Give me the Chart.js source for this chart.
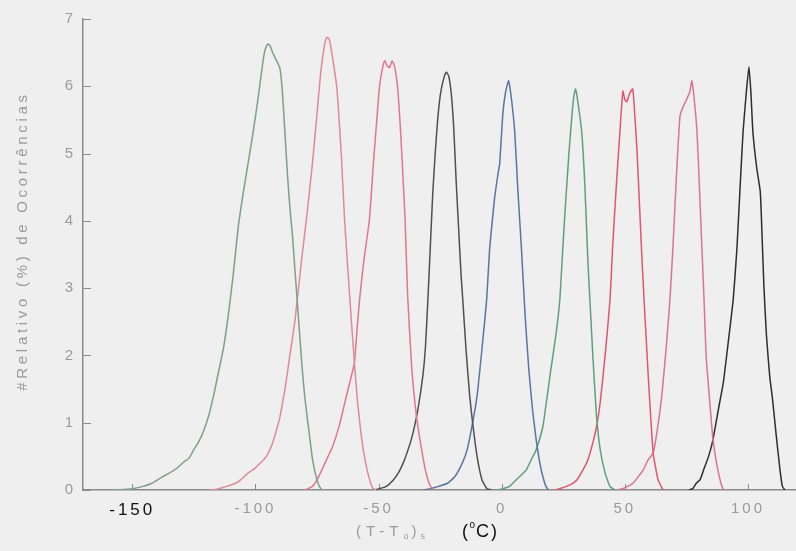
<!DOCTYPE html>
<html>
<head>
<meta charset="utf-8">
<script src="https://cdn.jsdelivr.net/npm/chart.js@4/dist/chart.umd.min.js"></script>
<style>
  html, body { margin: 0; padding: 0; background: #efefef; overflow: hidden; }
  canvas { display: block; }
</style>
</head>
<body>
<canvas id="chart" width="796" height="551"></canvas>
<script>
// Tick values
const xTicks = [-150, -100, -50, 0, 50, 100];
const yTicks = [0, 1, 2, 3, 4, 5, 6, 7];

// Relative frequency distributions: [ (T-To)s in °C , % of occurrences ]
const curve1 = [[-158,0],[-150,0.02],[-146,0.05],[-142,0.1],[-138,0.19],[-135,0.25],[-132,0.32],[-129,0.42],[-127,0.47],[-125,0.6],[-123,0.72],[-121,0.88],[-119,1.1],[-117,1.4],[-115,1.75],[-113,2.1],[-111,2.6],[-109,3.2],[-107,3.9],[-105,4.4],[-103,4.85],[-101,5.3],[-99,5.8],[-97,6.35],[-96,6.55],[-95,6.63],[-94,6.6],[-93,6.5],[-91,6.35],[-90,6.26],[-89,5.9],[-88,5.3],[-87,4.7],[-86,4.2],[-85,3.8],[-84,3.3],[-83,2.8],[-82,2.3],[-81,1.8],[-80,1.4],[-79,1.09],[-78,0.8],[-77,0.5],[-76,0.3],[-75,0.15],[-74,0.05],[-73,0]];
const curve2 = [[-118,0],[-115,0.02],[-112,0.05],[-108,0.1],[-106,0.15],[-103,0.25],[-100,0.33],[-98,0.4],[-95.5,0.5],[-93,0.7],[-91,0.95],[-90,1.09],[-88,1.5],[-86,2.0],[-84,2.5],[-83,2.83],[-81,3.5],[-79.3,4.02],[-77,4.8],[-75.2,5.5],[-73.5,6.2],[-72,6.6],[-71,6.73],[-70,6.7],[-69,6.5],[-67,6.0],[-66,5.5],[-65,4.9],[-63.8,4.02],[-62.5,3.3],[-61,2.5],[-59.8,1.89],[-58.5,1.3],[-57,0.8],[-55.5,0.45],[-54,0.2],[-52.4,0.03],[-51,0]];
const curve3 = [[-80,0],[-77,0.05],[-75,0.15],[-73,0.3],[-70.5,0.5],[-68.7,0.64],[-66,0.95],[-64,1.25],[-62,1.55],[-59.8,1.89],[-58.7,2.4],[-57.7,2.83],[-56,3.4],[-53.7,4.02],[-52,4.9],[-50.5,5.6],[-49.6,6.0],[-48.5,6.25],[-47.5,6.38],[-46.5,6.3],[-45.5,6.28],[-44.5,6.38],[-43.5,6.3],[-42.3,6.0],[-41,5.3],[-40,4.6],[-39.2,4.0],[-38.2,2.9],[-36.5,1.8],[-34.6,1.09],[-32.5,0.6],[-31,0.3],[-29.5,0.1],[-28,0]];
const curve4 = [[-52,0],[-49.6,0.02],[-47,0.05],[-44,0.15],[-42,0.25],[-40,0.4],[-38,0.6],[-36,0.85],[-34,1.2],[-32,1.7],[-31,2.1],[-30,2.8],[-29,3.6],[-28,4.4],[-27,5.0],[-26,5.5],[-25,5.85],[-24,6.05],[-23,6.18],[-22.4,6.21],[-21.5,6.15],[-20.5,5.9],[-19.5,5.4],[-18.5,4.6],[-17.5,3.9],[-16.5,3.2],[-15.8,2.83],[-14.5,2.1],[-13,1.4],[-11.8,1.0],[-10,0.5],[-8,0.15],[-6,0.02],[-4,0]];
const curve5 = [[-32,0],[-29,0.02],[-26,0.05],[-22,0.1],[-19,0.2],[-16,0.4],[-14,0.6],[-11.8,1.0],[-10,1.4],[-8,2.1],[-6.1,2.83],[-4.9,3.58],[-3,4.3],[-1.5,4.7],[-0.8,4.85],[0.4,5.56],[1.5,5.9],[2.8,6.08],[4,5.8],[5.3,5.32],[6.5,4.5],[8,3.6],[9.5,2.6],[11,1.8],[12.5,1.2],[14,0.75],[15.5,0.4],[16.7,0.2],[18,0.05],[19,0]];
const curve6 = [[-2,0],[0.5,0.02],[3,0.05],[5,0.12],[7.3,0.2],[10,0.3],[12,0.45],[14,0.6],[16.7,0.94],[18.5,1.4],[20,1.8],[22,2.3],[23.6,2.83],[24.8,3.58],[26,4.3],[27.3,5.0],[28.5,5.56],[29.3,5.85],[30,5.96],[30.8,5.8],[32.5,5.32],[33.8,4.5],[35,3.4],[36,2.7],[37,2.0],[38.5,1.1],[40,0.6],[42,0.25],[44,0.05],[46,0]];
const curve7 = [[22,0],[23.6,0.02],[26,0.05],[28,0.08],[30.5,0.15],[33,0.3],[35,0.45],[37,0.7],[38.5,0.94],[40,1.3],[42,2.0],[44,2.83],[45,3.58],[46.5,4.5],[48,5.32],[49.2,5.93],[50,5.8],[50.8,5.77],[52,5.9],[53.2,5.96],[54,5.6],[54.9,5.07],[56,4.2],[57,3.4],[58,2.7],[59.5,1.7],[61.5,0.55],[63.5,0.15],[65.5,0]];
const curve8 = [[47,0],[49,0.02],[51,0.05],[53.3,0.1],[55.5,0.2],[57.5,0.3],[59.5,0.45],[61.5,0.55],[63,0.85],[65,1.4],[67,2.2],[68.3,2.83],[69.5,3.58],[71,4.7],[72.4,5.56],[73.6,5.69],[75,5.8],[76.4,5.92],[77.2,6.08],[78.2,5.8],[79.3,5.32],[80.3,4.5],[81.3,3.58],[82.2,2.8],[83,2.0],[84.5,1.3],[85.8,0.75],[87.5,0.35],[89,0.1],[90,0]];
const curve9 = [[76,0],[77.6,0.02],[79,0.1],[80.5,0.15],[82,0.3],[84,0.5],[85.8,0.75],[88,1.2],[90,1.6],[92,2.2],[94,2.83],[95.5,3.58],[96.8,4.5],[98,5.32],[99.3,5.9],[100.4,6.29],[101.2,5.9],[102,5.32],[103.5,4.8],[105,4.43],[105.7,3.8],[106.5,3.0],[107.5,2.3],[108.8,1.7],[110,1.34],[111.5,0.8],[113,0.3],[114,0.05],[115,0]];

const curves = [curve1, curve2, curve3, curve4, curve5, curve6, curve7, curve8, curve9];
const lineColors = ['#7f9f8c', '#e08a99', '#e27690', '#505050', '#5a76a0', '#5f9f80', '#e0566f', '#dc7394', '#2e2e2e'];

const FONT = '"Liberation Sans", Arial, Helvetica, sans-serif';
const GREY_TEXT = '#9a9a9a';

const frame = {
  id: 'frame',
  beforeDraw(chart) {
    const ctx = chart.ctx;
    ctx.save();
    ctx.fillStyle = '#efefef';
    ctx.fillRect(0, 0, chart.width, chart.height);
    ctx.restore();
    // spaced lettering for the tick labels
    ctx.letterSpacing = '3px';
  },
  beforeDatasetsDraw(chart) {
    const ctx = chart.ctx;
    ctx.letterSpacing = '0px';
    const xs = chart.scales.x, ys = chart.scales.y;
    const area = chart.chartArea;
    ctx.save();
    ctx.strokeStyle = '#8c8c8c';
    ctx.lineWidth = 1;
    // inward tick marks
    yTicks.forEach(v => {
      const py = Math.round(ys.getPixelForValue(v)) + 0.5;
      ctx.beginPath();
      ctx.moveTo(area.left, py);
      ctx.lineTo(area.left + 8, py);
      ctx.stroke();
    });
    xTicks.forEach(v => {
      const px = Math.round(xs.getPixelForValue(v)) + 0.5;
      ctx.beginPath();
      ctx.moveTo(px, area.bottom);
      ctx.lineTo(px, area.bottom - 6);
      ctx.stroke();
    });
    ctx.restore();
  },
  afterDraw(chart) {
    const ctx = chart.ctx;
    ctx.save();
    // y-axis title
    ctx.letterSpacing = '3.7px';
    ctx.font = '15px ' + FONT;
    ctx.fillStyle = GREY_TEXT;
    ctx.textAlign = 'center';
    ctx.textBaseline = 'middle';
    ctx.translate(23, 241);
    ctx.rotate(-Math.PI / 2);
    ctx.fillText('#Relativo (%) de Ocorrências', 0, 0);
    ctx.restore();

    // x-axis title: (T-To)s   (°C)
    ctx.save();
    ctx.textAlign = 'left';
    ctx.textBaseline = 'alphabetic';
    const base = 536;
    let x = 356;
    const put = (txt, size, dy, color, spacing) => {
      ctx.font = size + 'px ' + FONT;
      ctx.fillStyle = color;
      ctx.letterSpacing = spacing + 'px';
      ctx.fillText(txt, x, base + dy);
      x += ctx.measureText(txt).width;
    };
    put('(T-T', 15, 0, GREY_TEXT, 5);
    put('o', 9, 3, GREY_TEXT, 3);
    put(')', 15, 0, GREY_TEXT, 4);
    put('s', 9, 3, GREY_TEXT, 2);
    x = 462;
    put('(', 18, 1, '#111', 1.5);
    put('o', 10, -8, '#111', 1);
    put('C)', 18, 1, '#111', 2);
    ctx.restore();
    ctx.letterSpacing = '0px';
  }
};

new Chart(document.getElementById('chart'), {
  type: 'line',
  data: {
    datasets: curves.map((c, i) => ({
      data: c.map(p => ({ x: p[0], y: p[1] })),
      borderColor: lineColors[i],
      borderWidth: 1.5,
      pointRadius: 0,
      tension: 0.15,
      fill: false
    }))
  },
  options: {
    responsive: false,
    animation: false,
    devicePixelRatio: 1,
    layout: { padding: { left: 0, right: 0, top: 19, bottom: 0 } },
    plugins: { legend: { display: false }, tooltip: { enabled: false } },
    scales: {
      x: {
        type: 'linear',
        min: -170,
        max: 119.5,
        afterFit(scale) { scale.height = 61; },
        afterBuildTicks(scale) { scale.ticks = xTicks.map(v => ({ value: v })); },
        grid: { display: false, drawTicks: false },
        border: { display: true, color: '#8a8a8a', width: 1.5 },
        ticks: {
          padding: 10,
          maxRotation: 0,
          autoSkip: false,
          color: c => (c.tick && c.tick.value === -150) ? '#111' : GREY_TEXT,
          font: c => (c.tick && c.tick.value === -150)
            ? { family: FONT, size: 17 }
            : { family: FONT, size: 15 },
          callback: v => String(v)
        }
      },
      y: {
        min: 0,
        max: 7,
        afterFit(scale) { scale.width = 83; },
        afterBuildTicks(scale) { scale.ticks = yTicks.map(v => ({ value: v })); },
        grid: { display: false, drawTicks: false },
        border: { display: true, color: '#8a8a8a', width: 1.5 },
        ticks: {
          padding: 7,
          color: GREY_TEXT,
          font: { family: FONT, size: 15 },
          callback: v => String(v)
        }
      }
    }
  },
  plugins: [frame]
});
</script>
</body>
</html>
